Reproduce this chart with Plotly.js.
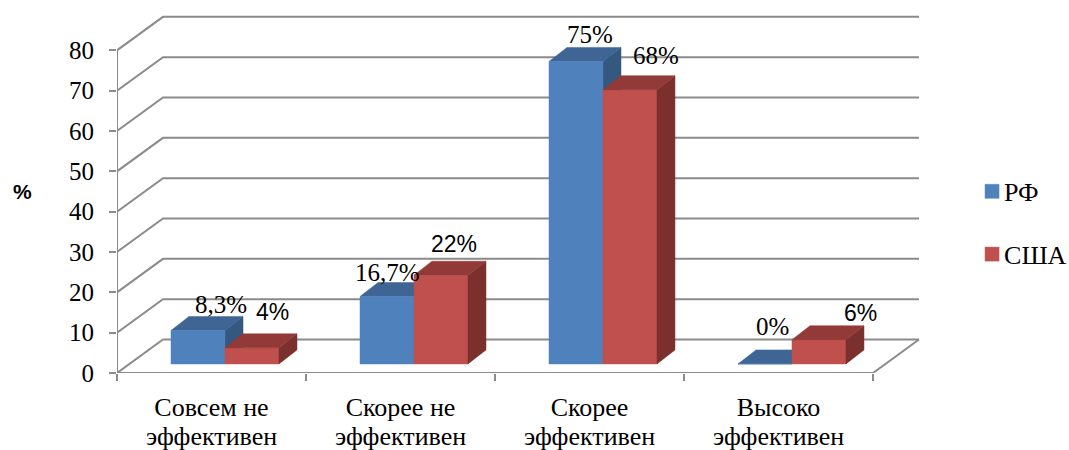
<!DOCTYPE html>
<html>
<head>
<meta charset="utf-8">
<script src="https://cdn.plot.ly/plotly-3.0.1.min.js"></script>
<style>html,body{margin:0;padding:0;background:#fff;overflow:hidden}</style>
</head>
<body>
<div id="chart" style="width:1069px;height:450px"></div>
<script>
// ---- data ----
const categories = ['Совсем не<br>эффективен', 'Скорее не<br>эффективен', 'Скорее<br>эффективен', 'Высоко<br>эффективен'];
const seriesRF = [8.3, 16.7, 75, 0];
const seriesUS = [4, 22, 68, 6];
const labelsRF = ['8,3%', '16,7%', '75%', '0%'];
const labelsUS = ['4%', '22%', '68%', '6%'];
const valueTicks = [0, 10, 20, 30, 40, 50, 60, 70, 80];

// ---- fake-3D geometry, in axis units ----
const wallDx = 0.2434, wallDy = 8.3;      // depth of the box
const barLeft = 0.2857, barW = 0.2857;    // bar placement inside a category
const barDx = 0.0952, barDy = 3.47;       // depth of a bar
const floorY = 2.25;                      // front foot of the bars
const xMax = 842 / 189, yMax = 90;

// ---- label nudges, in pixels ----
const rfShiftX = [23, 0, 14, 7], rfShiftY = [25.5, 23.7, 27, 37];
const usShiftX = [21, 13, 26, 42], usShiftY = [36, 31, 34, 27];

const GRID = '#8b8b8b', GW = 2;
const serif = '"Liberation Serif", "Times New Roman", serif';
const sans = '"Liberation Sans", Arial, sans-serif';
const FS = 25, CATFS = 26, SANSFS = 23;

function gridTrace() {
  const x = [], y = [];
  valueTicks.forEach(v => {
    x.push(0, wallDx, 4 + wallDx, null);
    y.push(v, v + wallDy, v + wallDy, null);
  });
  x.push(4 + wallDx, 4, 0, 0);
  y.push(wallDy, 0, 0, 80);
  return {type: 'scatter', mode: 'lines', x, y, line: {color: GRID, width: GW},
          hoverinfo: 'skip', showlegend: false, zorder: 0, cliponaxis: false};
}
function poly(vals, col, maker, z) {
  const x = [], y = [];
  vals.forEach((v, i) => {
    const pts = maker(i, v);
    pts.forEach(p => { x.push(p[0]); y.push(p[1]); });
    x.push(pts[0][0], null); y.push(pts[0][1], null);
  });
  return {type: 'scatter', mode: 'lines', x, y, fill: 'toself', fillcolor: col,
          line: {color: col, width: 0.5}, hoverinfo: 'skip', showlegend: false, zorder: z};
}
const topFace = off => (i, v) => {
  const l = i + barLeft + off, t = floorY + v;
  return [[l, t], [l + barW, t], [l + barW + barDx, t + barDy], [l + barDx, t + barDy]];
};
const sideFace = off => (i, v) => {
  const r = i + barLeft + off + barW, t = floorY + v;
  return [[r, floorY], [r + barDx, floorY + barDy], [r + barDx, t + barDy], [r, t]];
};
function front(vals, name, col, off, z) {
  return {type: 'bar', name, x: vals.map((_, i) => i + barLeft + off + barW / 2), y: vals,
          base: vals.map(() => floorY), width: barW, marker: {color: col, line: {color: col, width: 0.5}},
          hoverinfo: 'skip', zorder: z, legendgroup: name};
}

const traces = [
  gridTrace(),
  poly(seriesRF, '#34587F', sideFace(0), 1),
  poly(seriesRF, '#3F6595', topFace(0), 1),
  front(seriesRF, 'РФ', '#4F81BD', 0, 2),
  front(seriesUS, 'США', '#C0504D', barW, 3),
  poly(seriesUS, '#7C302E', sideFace(barW), 4),
  poly(seriesUS, '#923A38', topFace(barW), 4)
];

function label(text, i, v, off, sx, sy, font, size) {
  return {x: i + barLeft + off + barW / 2, y: floorY + v, xref: 'x', yref: 'y', text,
          showarrow: false, xshift: sx, yshift: sy, xanchor: 'center', yanchor: 'middle',
          font: {family: font, size, color: '#000'}};
}
const annotations = [];
seriesRF.forEach((v, i) => annotations.push(label(labelsRF[i], i, v, 0, rfShiftX[i], rfShiftY[i], serif, FS)));
const usFonts = [sans, sans, serif, sans];
seriesUS.forEach((v, i) => annotations.push(label(labelsUS[i], i, v, barW, usShiftX[i], usShiftY[i], usFonts[i], usFonts[i] === serif ? FS : SANSFS)));
annotations.push({xref: 'paper', yref: 'paper', x: -95 / 842, y: 0.5, text: '<b>%</b>', showarrow: false,
                  xanchor: 'center', yanchor: 'middle', font: {family: sans, size: 21, color: '#000'}});

const layout = {
  width: 1069, height: 450,
  margin: {l: 117, r: 110, t: 10.3, b: 77},
  paper_bgcolor: '#fff', plot_bgcolor: 'rgba(0,0,0,0)',
  barmode: 'overlay', showlegend: true, annotations,
  font: {family: serif, size: FS, color: '#000'},
  xaxis: {
    type: 'linear', range: [0, xMax], showgrid: false, zeroline: false,
    showline: false,
    tickmode: 'array', tickvals: categories.map((_, i) => i + 0.5), ticktext: categories,
    ticks: '', ticklabelstandoff: 16, tickfont: {family: serif, size: CATFS, color: '#000'},
    minor: {tickmode: 'array', tickvals: [0, 1, 2, 3, 4], ticks: 'outside', ticklen: 7, tickwidth: GW, tickcolor: GRID, showgrid: false}
  },
  yaxis: {
    range: [0, yMax], showgrid: false, zeroline: false, showline: false,
    tickmode: 'array', tickvals: valueTicks, ticks: 'outside', ticklen: 7, tickwidth: GW, tickcolor: GRID,
    ticklabelstandoff: 10, tickfont: {family: serif, size: FS, color: '#000'}
  },
  legend: {xref: 'container', yref: 'container', x: 0.9093, xanchor: 'left', y: 0.6269, yanchor: 'top', traceorder: 'grouped',
           tracegroupgap: 26, font: {family: serif, size: CATFS, color: '#000'}, bgcolor: 'rgba(0,0,0,0)', itemclick: false, itemdoubleclick: false}
};
Plotly.newPlot('chart', traces, layout, {displayModeBar: false, staticPlot: true}).then(gd => {
  // tighter second line in category labels, closer legend text, larger swatches
  gd.querySelectorAll('.xtick text tspan.line').forEach(t => {
    if (parseFloat(t.getAttribute('dy')) > 0) t.setAttribute('dy', '1.1em');
  });
  gd.querySelectorAll('.legendtext').forEach(t => {
    t.setAttribute('x', parseFloat(t.getAttribute('x')) - 8);
  });
  gd.querySelectorAll('.legendpoints path').forEach(p => p.setAttribute('d', 'M7,7H-7V-7H7Z'));
});
</script>
</body>
</html>
